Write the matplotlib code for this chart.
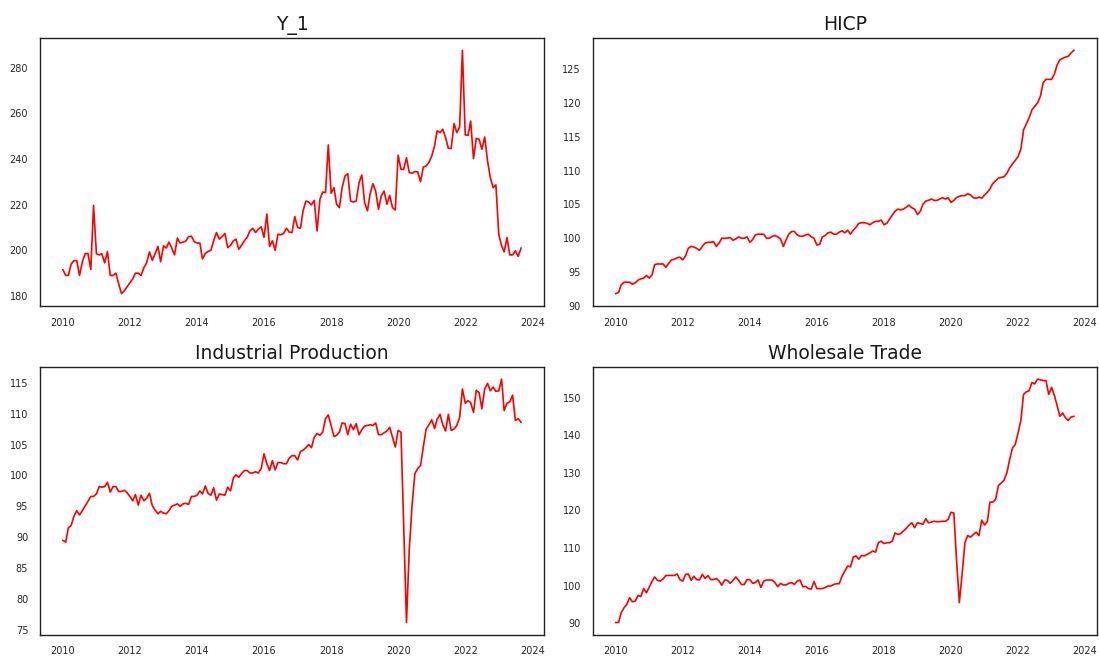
import numpy as np
import pandas as pd
import matplotlib
matplotlib.use("Agg")
import matplotlib.pyplot as plt

# monthly data, 2010-01 .. 2023-09
dates = pd.date_range("2010-01-01", periods=165, freq="MS")

y_1 = [191.5, 189, 189, 194, 195.5, 195.5, 189, 195, 198.6, 198.6,
       191.6, 219.7, 198.5, 198, 198.5, 194.5, 199.5, 189, 189, 190,
       185.3, 181, 182.3, 184, 185.8, 187.5, 190, 190, 189, 192.4,
       194.5, 199.3, 195.6, 198.5, 201.7, 195, 202, 201, 203.6, 201,
       198, 205.4, 203.2, 203.6, 204, 206, 206.2, 203.8, 203.2, 203.2,
       196.2, 198.6, 199.5, 200, 204.2, 207.8, 204.9, 206, 207.4, 201.2,
       202.2, 204.2, 204.9, 200.5, 202.2, 204.2, 205.7, 208.6, 209.6, 207.8,
       209.3, 210.3, 205.7, 215.9, 201.7, 204.2, 200, 207.1, 206.8, 207.4,
       209.7, 208, 207.8, 214.8, 210, 209.7, 217.3, 221.6, 221.2, 219.9,
       221.9, 208.5, 222.4, 225.6, 225.3, 246.2, 225, 227.5, 220.2, 218.7,
       227.5, 232.6, 233.6, 221.6, 221.2, 221.6, 229.7, 233, 220.9, 217.3,
       224.6, 229.2, 226, 218, 223.8, 226, 220.2, 224.1, 218.7, 217.7,
       241.7, 235.5, 235.5, 240.6, 234.1, 233.8, 234.5, 234.4, 230.1, 236.5,
       237, 238.5, 241.4, 245.8, 252.4, 251.6, 253.1, 249.4, 244.7, 244.7,
       255.6, 251.6, 254.1, 287.7, 250.6, 250.4, 256.7, 240.2, 249.1, 248.7,
       244.3, 249.7, 239.2, 231.9, 227.5, 228.7, 207.1, 202, 199.3, 205.6,
       198, 198, 199.8, 197.3, 201]

hicp = [91.8, 92.0, 93.1, 93.5, 93.5, 93.5, 93.2, 93.4, 93.8, 94.0,
        94.1, 94.5, 94.1, 94.6, 96.1, 96.2, 96.2, 96.2, 95.7, 96.3,
        96.8, 96.9, 97.1, 97.2, 96.8, 97.4, 98.5, 98.8, 98.7, 98.5,
        98.2, 98.8, 99.3, 99.4, 99.4, 99.5, 98.8, 99.3, 100.0, 100.0,
        100.0, 100.1, 99.7, 99.9, 100.2, 100.0, 100.0, 100.2, 99.4, 99.8,
        100.5, 100.6, 100.6, 100.6, 100.0, 100.0, 100.3, 100.4, 100.2, 99.9,
        98.8, 99.8, 100.6, 101.0, 101.0, 100.5, 100.3, 100.3, 100.5, 100.6,
        100.2, 100.0, 99.0, 99.1, 100.2, 100.4, 100.8, 100.9, 100.6, 100.6,
        100.9, 101.1, 100.8, 101.2, 100.6, 101.2, 101.6, 102.2, 102.3, 102.3,
        102.2, 102.0, 102.3, 102.5, 102.5, 102.7, 102.0, 102.2, 102.8, 103.4,
        104.0, 104.3, 104.2, 104.3, 104.6, 104.9, 104.5, 104.3, 103.5, 104.0,
        105.0, 105.5, 105.6, 105.8, 105.6, 105.6, 105.8, 106.0, 105.8, 106.0,
        105.3, 105.6, 106.0, 106.2, 106.3, 106.3, 106.6, 106.4, 106.0, 105.9,
        106.1, 105.9, 106.4, 106.8, 107.3, 108.1, 108.5, 108.9, 109.0, 109.1,
        109.6, 110.4, 111.0, 111.5, 112.1, 113.2, 116.0, 116.9, 117.8, 119.0,
        119.5, 120.0, 121.0, 123.0, 123.5, 123.5, 123.5, 124.3, 125.6, 126.4,
        126.6, 126.8, 126.9, 127.4, 127.8]

ind_prod = [89.5, 89.2, 91.5, 91.9, 93.4, 94.3, 93.6, 94.3, 95.1, 95.8,
            96.6, 96.6, 97.0, 98.2, 98.1, 98.2, 98.9, 97.3, 98.2, 98.2,
            97.4, 97.4, 97.6, 97.2, 96.6, 95.9, 96.9, 95.2, 96.8, 95.9,
            96.3, 97.1, 95.1, 94.4, 93.8, 94.2, 93.9, 93.8, 94.3, 95.0,
            95.2, 95.4, 95.0, 95.4, 95.5, 95.3, 96.6, 96.6, 96.8, 97.5,
            97.0, 98.3, 97.1, 96.8, 98.0, 96.0, 97.0, 96.9, 96.8, 98.1,
            97.5, 99.6, 100.1, 99.7, 100.3, 100.8, 100.8, 100.4, 100.4, 100.6,
            100.4, 101.1, 103.5, 101.9, 100.8, 102.4, 100.9, 102.1, 102.1, 101.9,
            101.9, 102.8, 103.2, 103.2, 102.5, 103.9, 104.1, 104.5, 105.0, 104.5,
            106.2, 106.8, 106.5, 107.0, 109.2, 109.8, 108.1, 106.3, 106.5, 107.0,
            108.5, 108.4, 106.6, 108.3, 107.4, 108.4, 106.6, 107.4, 108.0, 108.1,
            108.2, 108.1, 108.5, 106.6, 106.6, 106.9, 107.2, 107.8, 106.2, 104.6,
            107.3, 107.0, 92.0, 76.2, 88.0, 95.2, 100.3, 101.1, 101.6, 104.6,
            107.5, 108.2, 109.0, 107.6, 109.1, 109.9, 108.2, 107.2, 109.9, 107.3,
            107.5, 108.1, 109.4, 114.0, 111.7, 112.1, 111.8, 110.2, 113.8, 113.4,
            110.8, 114.0, 114.9, 113.7, 114.3, 113.6, 113.7, 115.6, 110.5, 111.7,
            111.9, 113.0, 108.9, 109.2, 108.6]

wholesale = [90.2, 90.2, 92.8, 94.1, 95.0, 96.8, 95.7, 95.9, 97.4, 97.1,
             99.2, 98.1, 99.6, 101.2, 102.3, 101.4, 101.2, 101.8, 102.7, 102.7,
             102.7, 102.7, 103.1, 101.6, 101.2, 103.0, 103.1, 101.4, 102.5, 101.6,
             101.5, 103.0, 101.9, 102.7, 101.6, 101.6, 101.9, 101.2, 100.1, 101.5,
             101.4, 100.6, 101.4, 102.3, 101.4, 100.3, 100.3, 101.6, 101.6, 100.6,
             100.8, 101.5, 99.5, 101.2, 101.5, 101.5, 101.5, 100.8, 99.7, 100.6,
             100.2, 100.2, 100.6, 100.8, 100.3, 101.2, 101.5, 99.7, 99.8, 99.2,
             99.1, 101.1, 99.2, 99.2, 99.2, 99.5, 99.9, 99.9, 100.3, 100.5,
             100.5, 102.5, 103.9, 105.2, 105.0, 107.6, 107.9, 107.0, 108.0, 107.9,
             108.3, 108.7, 109.2, 108.9, 111.4, 111.8, 111.2, 111.4, 111.4, 111.8,
             114.0, 113.6, 113.8, 114.5, 115.2, 116.1, 116.7, 115.4, 116.7, 116.5,
             116.3, 117.8, 116.7, 116.9, 117.1, 117.0, 117.0, 117.1, 117.1, 117.6,
             119.5, 119.3, 107.0, 95.5, 103.0, 111.4, 113.3, 112.9, 113.6, 114.2,
             113.3, 117.4, 116.1, 117.1, 122.2, 122.2, 122.9, 126.6, 127.3, 128.0,
             130.0, 133.5, 136.6, 137.5, 140.6, 144.0, 150.8, 151.5, 151.8, 154.0,
             153.6, 154.9, 154.7, 154.5, 154.5, 150.8, 152.7, 150.5, 148.0, 145.0,
             145.9, 144.6, 143.9, 144.8, 145.0]

titles = ["Y_1", "HICP", "Industrial Production", "Wholesale Trade"]
series = [y_1, hicp, ind_prod, wholesale]

fig, axes = plt.subplots(2, 2, figsize=(10.99, 6.57), dpi=100)
fig.subplots_adjust(left=0.0364, right=0.998, top=0.942, bottom=0.034,
                    wspace=0.097, hspace=0.228)

for ax, title, vals in zip(axes.flat, titles, series):
    ax.plot(dates, vals, color="red", linewidth=1.2)
    ax.set_title(title, fontsize=13.5, color="#1a1a1a")
    ax.tick_params(length=0, pad=8.5, labelsize=7, labelcolor="#262626")
    for sp in ax.spines.values():
        sp.set_color("#222222")
        sp.set_linewidth(1.0)

fig.savefig("out.png", dpi=100, facecolor="white")
